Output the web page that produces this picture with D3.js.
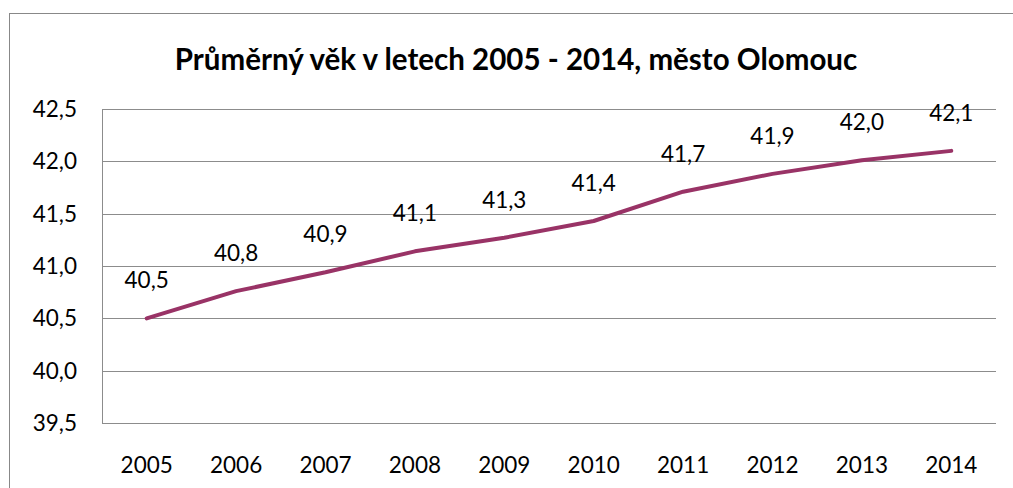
<!DOCTYPE html>
<html><head><meta charset="utf-8">
<script src="https://cdn.jsdelivr.net/npm/d3@7"></script>
<style>body{margin:0;background:#fff}svg{display:block}</style>
</head><body>
<svg id="c" width="1013" height="488"></svg>
<script>
const title = "Průměrný věk v letech 2005 - 2014, město Olomouc";
const years = ["2005","2006","2007","2008","2009","2010","2011","2012","2013","2014"];
const values = [40.50, 40.76, 40.94, 41.14, 41.27, 41.43, 41.71, 41.88, 42.01, 42.10];
const yTicks = [39.5, 40.0, 40.5, 41.0, 41.5, 42.0, 42.5];

const svg = d3.select("#c");
const font = "Lato, 'Open Sans', 'Liberation Sans', sans-serif";
const fs = 22.5;
const fmt = v => d3.format(".1f")(v).replace(".", ",");

svg.append("rect").attr("x", 9.5).attr("y", 13.5).attr("width", 1100).attr("height", 600)
  .attr("fill", "#fff").attr("stroke", "#888").attr("stroke-width", 1);

const m = {l: 102, r: 996, t: 109, b: 423};
const x = d3.scaleBand().domain(years).range([m.l, m.r]).padding(0);
const y = d3.scaleLinear().domain([39.5, 42.5]).range([m.b, m.t]);

// gridlines
svg.append("g").selectAll("line").data(yTicks).join("line")
  .attr("x1", m.l).attr("x2", m.r)
  .attr("y1", d => Math.round(y(d)) + 0.5).attr("y2", d => Math.round(y(d)) + 0.5)
  .attr("stroke", "#8c8c8c").attr("stroke-width", 1);
// left axis line
svg.append("line").attr("x1", m.l + 0.5).attr("x2", m.l + 0.5).attr("y1", m.t).attr("y2", m.b + 1)
  .attr("stroke", "#8c8c8c");

// y tick labels
svg.append("g").selectAll("text").data(yTicks).join("text")
  .attr("x", 77).attr("y", d => y(d)).attr("dy", "0.35em")
  .attr("text-anchor", "end").attr("font-family", font).attr("font-size", fs).attr("fill", "#000")
  .text(fmt);

// x tick labels
svg.append("g").selectAll("text").data(years).join("text")
  .attr("x", d => x(d) + x.bandwidth() / 2).attr("y", 473)
  .attr("text-anchor", "middle").attr("font-family", font).attr("font-size", fs).attr("fill", "#000")
  .text(d => d);

// line
const line = d3.line().x((d, i) => x(years[i]) + x.bandwidth() / 2).y(d => y(d));
svg.append("path").datum(values).attr("d", line)
  .attr("fill", "none").attr("stroke", "#993366").attr("stroke-width", 4)
  .attr("stroke-linecap", "round").attr("stroke-linejoin", "round");

// data labels
svg.append("g").selectAll("text").data(values).join("text")
  .attr("x", (d, i) => x(years[i]) + x.bandwidth() / 2).attr("y", d => y(d) - 38).attr("dy", "0.35em")
  .attr("text-anchor", "middle").attr("font-family", font).attr("font-size", fs).attr("fill", "#000")
  .text(fmt);

// title
svg.append("text").attr("x", 516).attr("y", 70).attr("text-anchor", "middle")
  .attr("font-family", font).attr("font-weight", "bold").attr("font-size", 29.5).attr("fill", "#000")
  .text(title);
</script>
</body></html>
